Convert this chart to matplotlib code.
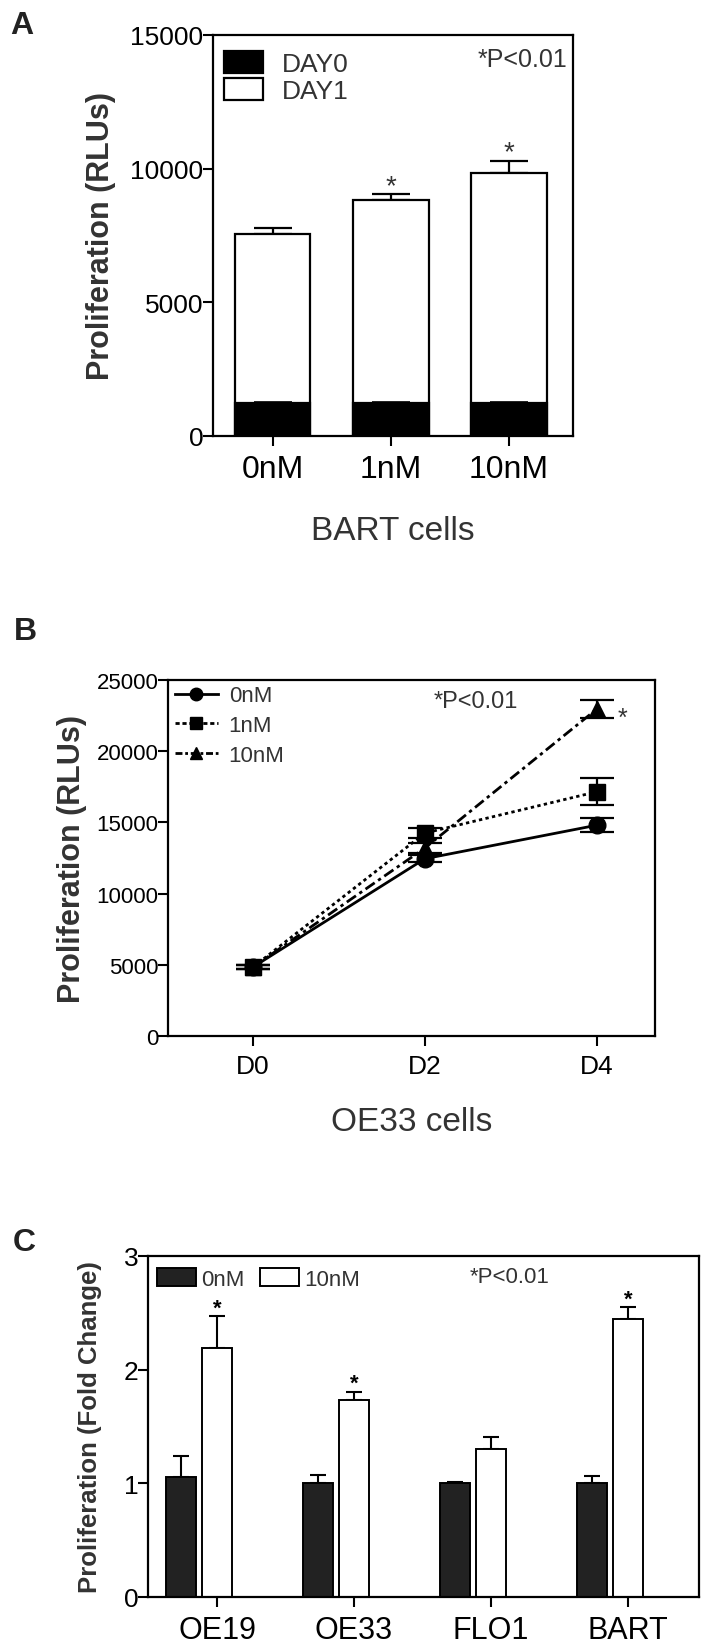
import numpy as np
import matplotlib
matplotlib.use("Agg")
import matplotlib.pyplot as plt
from matplotlib.patches import Patch
from matplotlib.lines import Line2D

plt.rcParams['font.family'] = ['Liberation Sans', 'DejaVu Sans']

W, H = 707, 1649

# panel A - BART cells, stacked DAY0 / DAY1
a_groups = ["0nM", "1nM", "10nM"]
a_day0 = [1230, 1230, 1230]
a_day0_err = [40, 40, 40]
a_day1 = [7550, 8830, 9840]
a_day1_err = [230, 220, 450]
a_star = [False, True, True]

# panel B - OE33 time course
b_days = ["D0", "D2", "D4"]
b_series = ["0nM", "1nM", "10nM"]
b_0nm = [4850, 12450, 14800]
b_0nm_err = [150, 250, 500]
b_1nm = [4850, 14250, 17150]
b_1nm_err = [150, 350, 950]
b_10nm = [4850, 13200, 22950]
b_10nm_err = [150, 350, 650]

# panel C - fold change per cell line
c_lines = ["OE19", "OE33", "FLO1", "BART"]
c_0nm = [1.06, 1.00, 1.00, 1.00]
c_0nm_err = [0.18, 0.07, 0.01, 0.065]
c_10nm = [2.19, 1.73, 1.30, 2.45]
c_10nm_err = [0.28, 0.075, 0.11, 0.10]
c_star = [True, True, False, True]


def px_axes(l, t, r, b):
    return [l / W, 1 - b / H, (r - l) / W, (b - t) / H]


def style_axes(ax, ytick_size, xtick_size):
    for s in ax.spines.values():
        s.set_linewidth(1.6)
    ax.tick_params(axis="both", direction="out", length=7, width=1.5,
                   top=False, right=False, pad=1)
    ax.tick_params(axis="y", labelsize=ytick_size, pad=0)
    ax.tick_params(axis="x", labelsize=xtick_size, pad=6)


def star(ax, x, y, size, dy=0, **kw):
    ax.annotate("*", (x, y), xytext=(0, dy), textcoords="offset points",
                ha="center", va="center", fontsize=size, **kw)


fig = plt.figure(figsize=(W / 100, H / 100), dpi=100)

# ---------------- A ----------------
ax = fig.add_axes(px_axes(213, 36, 573, 437))
xa = np.arange(len(a_groups))
bw = 0.636
ax.bar(xa, a_day1, bw, color="white", edgecolor="black", linewidth=1.6, zorder=2)
ax.errorbar(xa, a_day1, yerr=[np.zeros(3), a_day1_err], fmt="none",
            ecolor="black", elinewidth=1.6, capsize=14, capthick=1.6, zorder=1)
ax.bar(xa, a_day0, bw, color="black", edgecolor="black", linewidth=1.6, zorder=3)
ax.errorbar(xa, a_day0, yerr=[np.zeros(3), a_day0_err], fmt="none",
            ecolor="black", elinewidth=1.2, capsize=14, capthick=1.2, zorder=3)
for i in range(len(a_groups)):
    if a_star[i]:
        star(ax, xa[i], a_day1[i] + a_day1_err[i], 20, dy=6, color="#333333")
ax.set_xlim(-0.508, 2.542)
ax.set_ylim(0, 15000)
ax.set_yticks([0, 5000, 10000, 15000])
ax.set_xticks(xa)
ax.set_xticklabels(a_groups)
style_axes(ax, 19, 23)
ax.set_xlabel("BART cells", fontsize=24, color="#333333", labelpad=22)
ax.set_ylabel("Proliferation (RLUs)", fontsize=22, fontweight="bold",
              color="#333333")
ax.yaxis.set_label_coords(-0.269, 0.5)
leg = ax.legend([Patch(facecolor="black", edgecolor="black", linewidth=1.6),
                 Patch(facecolor="white", edgecolor="black", linewidth=1.6)],
                ["DAY0", "DAY1"], loc="upper left", bbox_to_anchor=(0.03, 0.96),
                frameon=False, fontsize=19, handlelength=1.5, handleheight=0.9,
                handletextpad=0.7, labelspacing=0.08, borderpad=0,
                borderaxespad=0)
for t in leg.get_texts():
    t.set_color("#333333")
ax.text(0.985, 0.94, "*P<0.01", transform=ax.transAxes, ha="right", va="center",
        fontsize=18, color="#333333")

# ---------------- B ----------------
ax = fig.add_axes(px_axes(168, 681, 655, 1037))
xb = np.arange(len(b_days))
ax.errorbar(xb, b_0nm, yerr=b_0nm_err, color="black", linestyle="-", lw=2,
            marker="o", ms=12, capsize=12, capthick=1.6, elinewidth=1.6)
ax.errorbar(xb, b_1nm, yerr=b_1nm_err, color="black", linestyle=(0, (1.2, 1.2)),
            lw=2, marker="s", ms=12, capsize=12, capthick=1.6, elinewidth=1.6)
ax.errorbar(xb, b_10nm, yerr=b_10nm_err, color="black",
            linestyle=(0, (4, 1.5, 1.2, 1.5)), lw=2, marker="^", ms=12,
            capsize=12, capthick=1.6, elinewidth=1.6)
ax.annotate("*", (xb[2], b_10nm[2]), xytext=(15, -6), textcoords="offset points",
            ha="left", va="center", fontsize=18, color="#333333")
ax.set_xlim(-0.496, 2.34)
ax.set_ylim(0, 25000)
ax.set_yticks(np.arange(0, 25001, 5000))
ax.set_xticks(xb)
ax.set_xticklabels(b_days)
style_axes(ax, 16, 19)
ax.set_xlabel("OE33 cells", fontsize=24, color="#333333", labelpad=20)
ax.set_ylabel("Proliferation (RLUs)", fontsize=22, fontweight="bold",
              color="#333333")
ax.yaxis.set_label_coords(-0.166, 0.5)
handles = [Line2D([], [], color="black", ls="-", lw=2, marker="o", ms=9),
           Line2D([], [], color="black", ls=(0, (1.5, 1)), lw=2, marker="s", ms=9),
           Line2D([], [], color="black", ls=(0, (2.5, 1, 1, 1)), lw=2, marker="^", ms=9)]
leg = ax.legend(handles, b_series, loc="upper left", bbox_to_anchor=(0.015, 0.985),
                frameon=False, fontsize=16, handlelength=1.9, handletextpad=0.5,
                labelspacing=0.4, borderpad=0, borderaxespad=0)
for t in leg.get_texts():
    t.set_color("#333333")
ax.text(0.632, 0.94, "*P<0.01", transform=ax.transAxes, ha="center", va="center",
        fontsize=17, color="#333333")

# ---------------- C ----------------
ax = fig.add_axes(px_axes(148, 1257, 699, 1598))
xc = np.arange(len(c_lines))
cw = 0.22
off = 0.26
ax.bar(xc - off, c_0nm, cw, color="#222222", edgecolor="black", linewidth=1.4,
       zorder=2)
ax.errorbar(xc - off, c_0nm, yerr=[np.zeros(4), c_0nm_err], fmt="none",
            ecolor="black", elinewidth=1.5, capsize=6, capthick=1.5, zorder=1)
ax.bar(xc, c_10nm, cw, color="white", edgecolor="black", linewidth=1.4, zorder=2)
ax.errorbar(xc, c_10nm, yerr=[np.zeros(4), c_10nm_err], fmt="none",
            ecolor="black", elinewidth=1.5, capsize=6, capthick=1.5, zorder=1)
for i in range(len(c_lines)):
    if c_star[i]:
        star(ax, xc[i], c_10nm[i] + c_10nm_err[i], 16, dy=6, fontweight="bold")
ax.set_xlim(-0.504, 3.518)
ax.set_ylim(0, 3)
ax.set_yticks([0, 1, 2, 3])
ax.set_xticks(xc)
ax.set_xticklabels(c_lines)
style_axes(ax, 19, 22)
ax.set_ylabel("Proliferation (Fold Change)", fontsize=18.5, fontweight="bold",
              color="#333333")
ax.yaxis.set_label_coords(-0.083, 0.5)
leg = ax.legend([Patch(facecolor="#222222", edgecolor="black", linewidth=1.4),
                 Patch(facecolor="white", edgecolor="black", linewidth=1.4)],
                ["0nM", "10nM"], loc="upper left", bbox_to_anchor=(0.016, 0.965),
                ncol=2, frameon=False, fontsize=16, handlelength=1.75,
                handleheight=0.9, handletextpad=0.25, columnspacing=0.7,
                borderpad=0, borderaxespad=0)
for t in leg.get_texts():
    t.set_color("#333333")
ax.text(0.657, 0.94, "*P<0.01", transform=ax.transAxes, ha="center", va="center",
        fontsize=16, color="#333333")

# panel letters
for lab, (x, y) in zip("ABC", [(22, 26), (25, 632), (24, 1243)]):
    fig.text(x / W, 1 - y / H, lab, ha="center", va="center", fontsize=23,
             fontweight="bold", color="#222222")

fig.savefig("out.png", dpi=100)
